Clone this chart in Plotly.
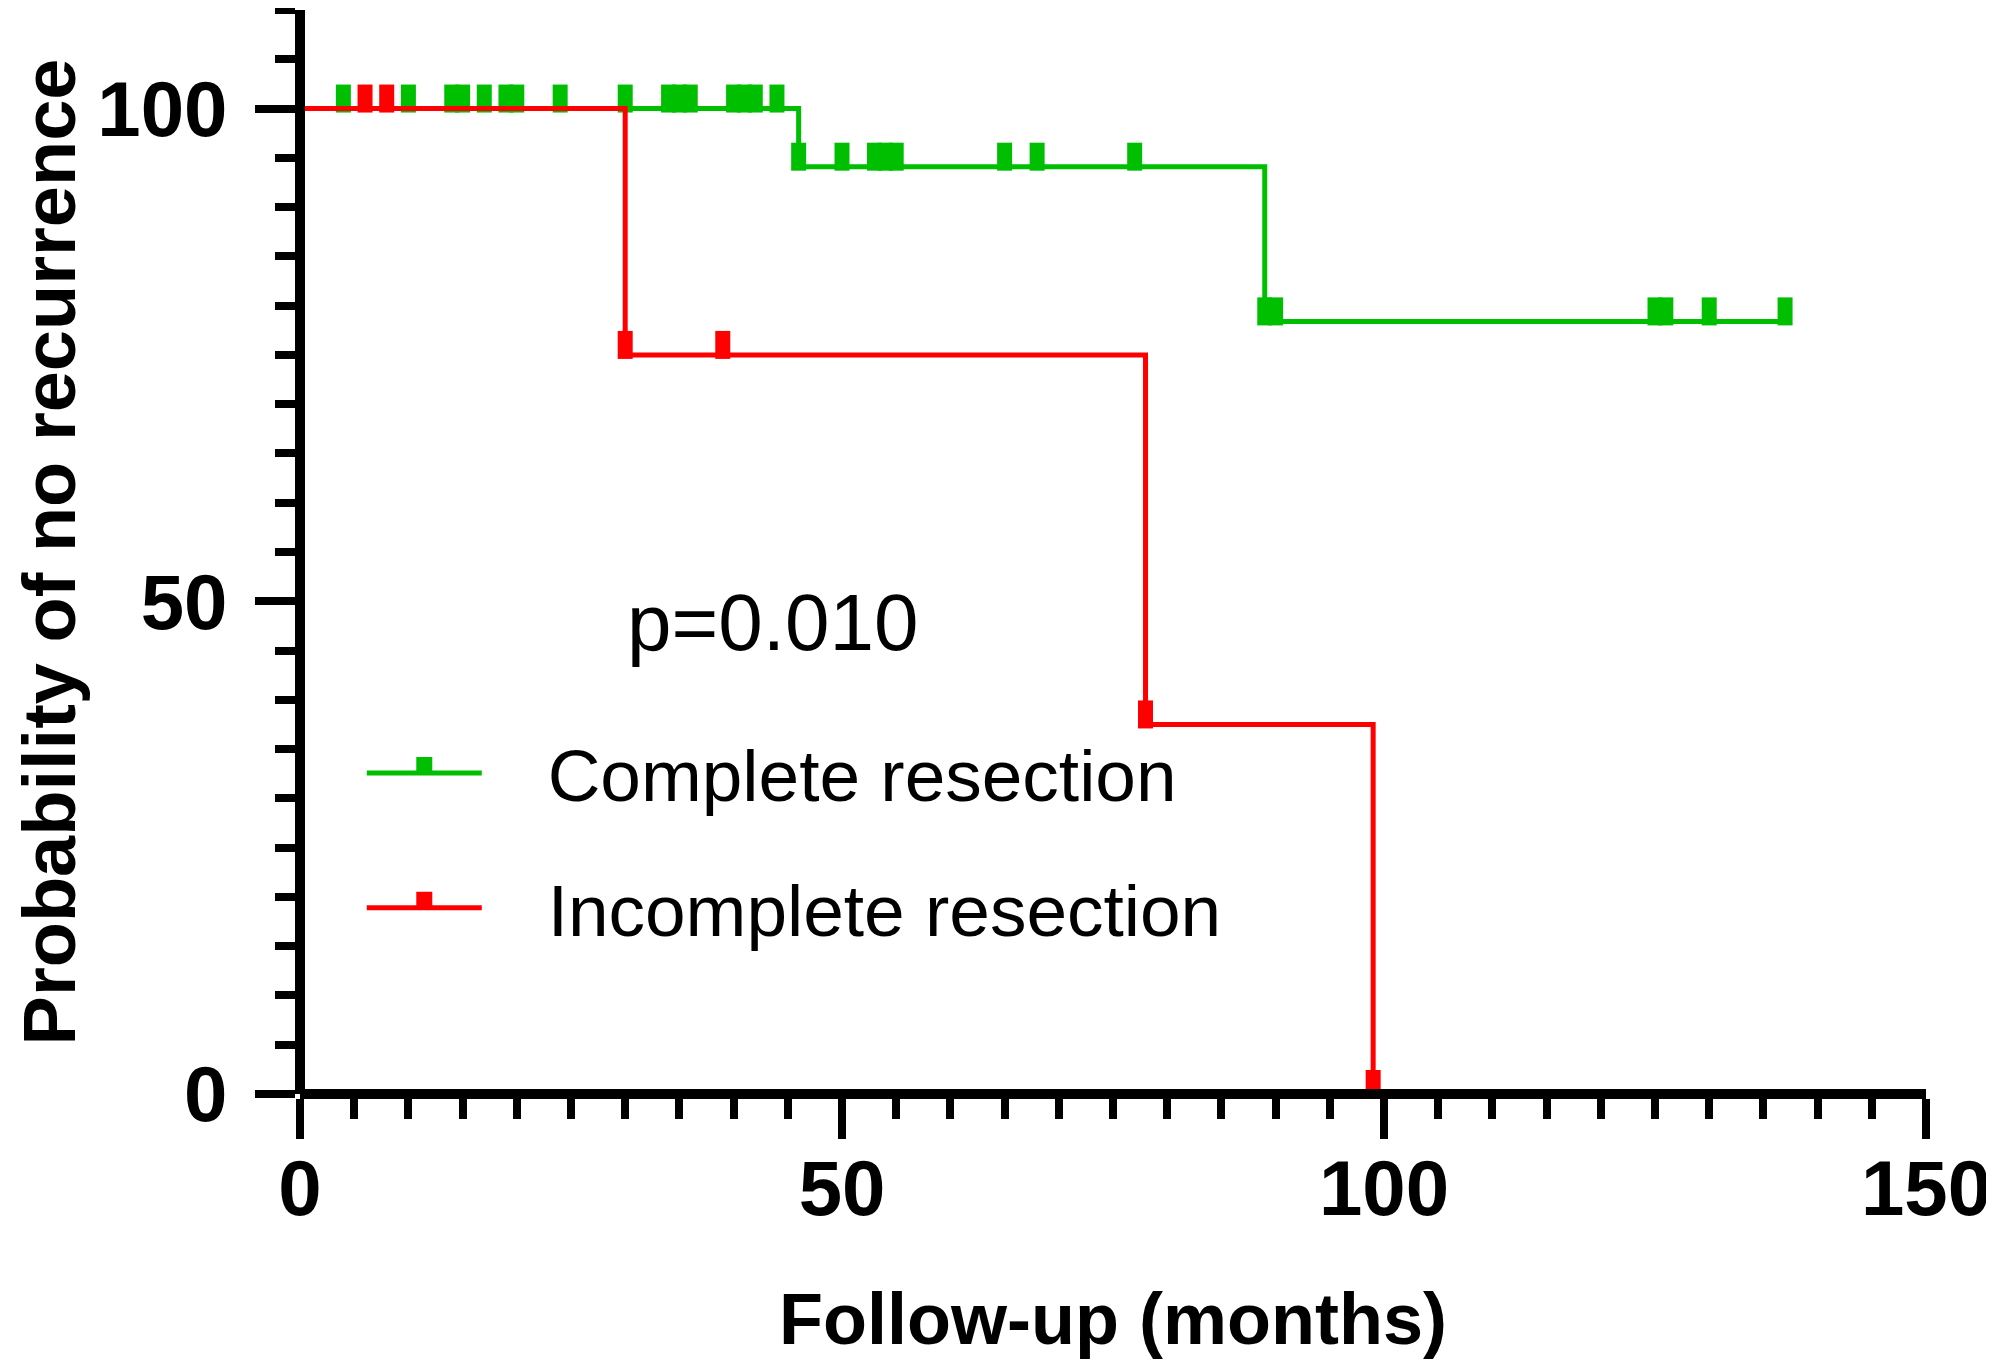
import plotly.graph_objects as go

# Kaplan-Meier steps (months, % without recurrence)
complete_t = [0, 46, 89, 137]
complete_s = [100, 94.1, 78.4, 78.4]
incomplete_t = [0, 30, 78, 99]
incomplete_s = [100, 75, 37.5, 0]

# censored observations
complete_cens_t = [4, 10, 14, 15, 17, 19, 20, 24, 30, 34, 35, 36, 40, 41, 42, 44,
                   46, 50, 53, 54, 55, 65, 68, 77,
                   89, 90, 125, 126, 130, 137]
complete_cens_s = [100] * 16 + [94.1] * 8 + [78.4] * 6
incomplete_cens_t = [6, 8, 30, 39, 78, 99]
incomplete_cens_s = [100, 100, 75, 75, 37.5, 0]

x_ticks = [0, 50, 100, 150]
y_ticks = [0, 50, 100]
p_text = "p=0.010"

GREEN = "#00bf00"
RED = "#ff0000"
FONT = "Liberation Sans, Arial, sans-serif"
PAD = "\u00a0\u00a0\u00a0"  # gap between legend symbol and label

groups = [
    ("Complete resection", complete_t, complete_s, complete_cens_t, complete_cens_s, GREEN),
    ("Incomplete resection", incomplete_t, incomplete_s, incomplete_cens_t, incomplete_cens_s, RED),
]

fig = go.Figure()
for i, (name, t, s, ct, cs, col) in enumerate(groups):
    # tick mark sitting on top of the curve
    censor_marker = dict(symbol="line-ns", size=20, angle=180, standoff=10,
                         line=dict(color=col, width=15), color=col)
    fig.add_trace(go.Scatter(x=t, y=s, mode="lines", line=dict(color=col, width=5, shape="hv"),
                             showlegend=False, hoverinfo="skip"))
    fig.add_trace(go.Scatter(x=ct, y=cs, mode="markers", marker=censor_marker,
                             showlegend=False, cliponaxis=False))
    # legend entry (line with censor tick)
    fig.add_trace(go.Scatter(x=[None], y=[None], mode="lines+markers", name=PAD + name,
                             legendgroup=str(i), line=dict(color=col, width=5),
                             marker=dict(symbol="square", size=16, angle=0, standoff=8,
                                         color=col, line=dict(width=0))))

fig.add_annotation(x=30, y=47.8, xref="x", yref="y", text=p_text, showarrow=False,
                   xanchor="left", yanchor="middle",
                   font=dict(family=FONT, size=80, color="black"))

axis_common = dict(
    showgrid=False, zeroline=False, showline=True, linecolor="black", linewidth=10,
    ticks="outside", ticklen=40, tickwidth=8, tickcolor="black",
    tickfont=dict(family=FONT, size=78, color="black", weight="bold"),
    anchor="free", position=0, automargin=False,
)

fig.update_layout(
    width=1986, height=1362,
    margin=dict(l=292, r=68, t=2, b=276),
    paper_bgcolor="white", plot_bgcolor="white",
    xaxis=dict(range=[0, 150], tickvals=x_ticks, ticklabelstandoff=-18,
               minor=dict(dtick=5, ticks="outside", ticklen=20, tickwidth=8, tickcolor="black"),
               title=dict(text="Follow-up (months)", standoff=62,
                          font=dict(family=FONT, size=72, color="black", weight="bold")),
               **axis_common),
    yaxis=dict(range=[0, 110], tickvals=y_ticks, ticklabelstandoff=12,
               minor=dict(dtick=5, ticks="outside", ticklen=20, tickwidth=8, tickcolor="black"),
               title=dict(text="Probability of no recurrence", standoff=55,
                          font=dict(family=FONT, size=74, color="black", weight="bold")),
               **axis_common),
    legend=dict(x=0.038, y=0.346, xanchor="left", yanchor="top",
                font=dict(family=FONT, size=73, color="black"),
                itemwidth=115, tracegroupgap=37, bgcolor="rgba(0,0,0,0)",
                itemsizing="trace"),
)

fig.write_html("out.html")
